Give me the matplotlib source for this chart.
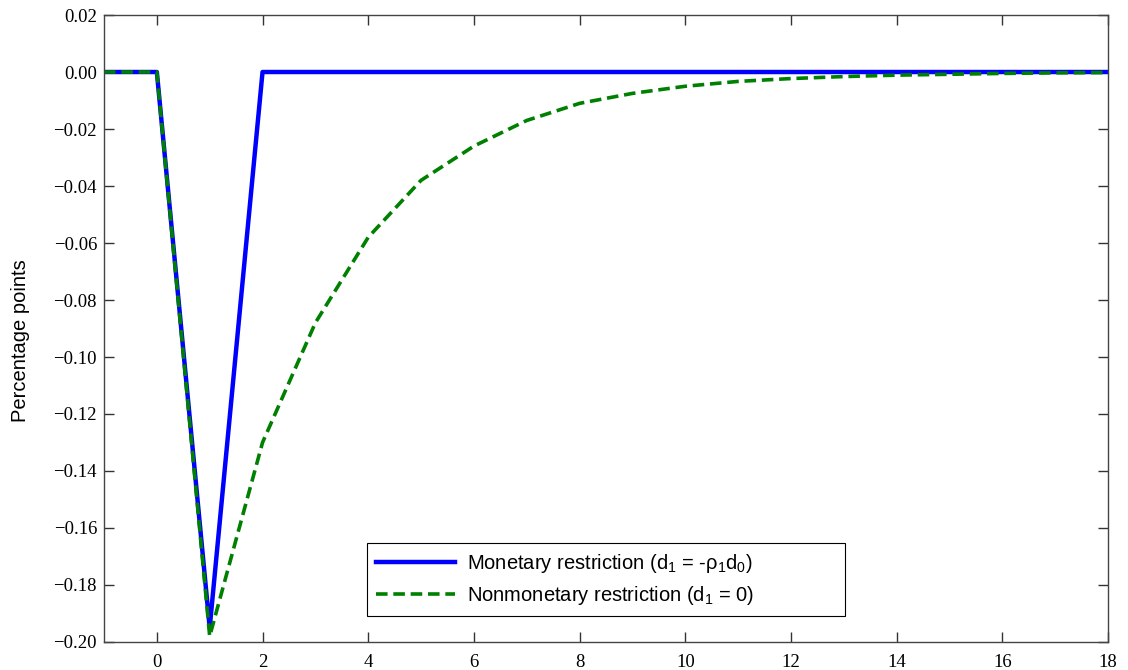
import matplotlib
matplotlib.use('Agg')
import matplotlib.pyplot as plt

# horizon (quarters)
periods = [-1, 0, 1, 2, 3, 4, 5, 6, 7, 8, 9, 10, 11, 12, 13, 14, 15, 16, 17, 18]

# monetary restriction: one-period dip
monetary = [0.0, 0.0, -0.195, 0.0, 0.0, 0.0, 0.0, 0.0, 0.0, 0.0,
            0.0, 0.0, 0.0, 0.0, 0.0, 0.0, 0.0, 0.0, 0.0, 0.0]

# nonmonetary restriction: slow decay back to zero
nonmonetary = [0.0, 0.0, -0.198, -0.130, -0.088, -0.058, -0.038, -0.026, -0.017, -0.011,
               -0.0075, -0.005, -0.0033, -0.0023, -0.0016, -0.0011, -0.0008, -0.0005, -0.0003, -0.0002]

xticks = [0, 2, 4, 6, 8, 10, 12, 14, 16, 18]
yticks = [0.02, 0.00, -0.02, -0.04, -0.06, -0.08, -0.10, -0.12, -0.14, -0.16, -0.18, -0.20]

fig = plt.figure(figsize=(11.28, 6.70), dpi=100)
ax = fig.add_axes([0.0922, 0.0418, 0.8901, 0.9358])

ax.plot(periods, monetary, color=(0, 0, 1), linewidth=3.2,
        label='Monetary restriction (d$_\\mathregular{1}$ = -\u03c1$_\\mathregular{1}$d$_\\mathregular{0}$)')
ax.plot(periods, nonmonetary, color=(0, 0.5, 0), linewidth=2.6, dashes=(3.2, 1.6),
        label='Nonmonetary restriction (d$_\\mathregular{1}$ = 0)')

ax.set_xlim(-1, 18)
ax.set_ylim(-0.20, 0.02)
ax.set_xticks(xticks)
ax.set_yticks(yticks)
ax.set_xticklabels([str(t) for t in xticks], family='Liberation Serif', fontsize=13.5)
ax.set_yticklabels(['%.2f' % v if v >= 0 else '\u2212%.2f' % abs(v) for v in yticks],
                   family='Liberation Serif', fontsize=13.5)
ax.tick_params(direction='in', length=7, width=1, top=True, right=True, colors='#333333',
               labelcolor='black')
ax.tick_params(axis='y', pad=5)
ax.tick_params(axis='x', pad=9)
for s in ax.spines.values():
    s.set_color('#444444')
    s.set_linewidth(1.0)

ax.set_ylabel('Percentage points', family='Liberation Sans', fontsize=14.5)
ax.yaxis.set_label_coords(-0.074, 0.48)

leg = ax.legend(loc='lower left', bbox_to_anchor=(0.262, 0.0415, 0.476, 0.116), mode='expand',
                prop={'family': 'Liberation Sans', 'size': 14.5}, fancybox=False,
                edgecolor='black', framealpha=1, handlelength=3.9, borderaxespad=0,
                labelspacing=0.45, handletextpad=0.6, borderpad=0.45)
leg.get_frame().set_linewidth(0.8)

fig.savefig('out.png', dpi=100)
